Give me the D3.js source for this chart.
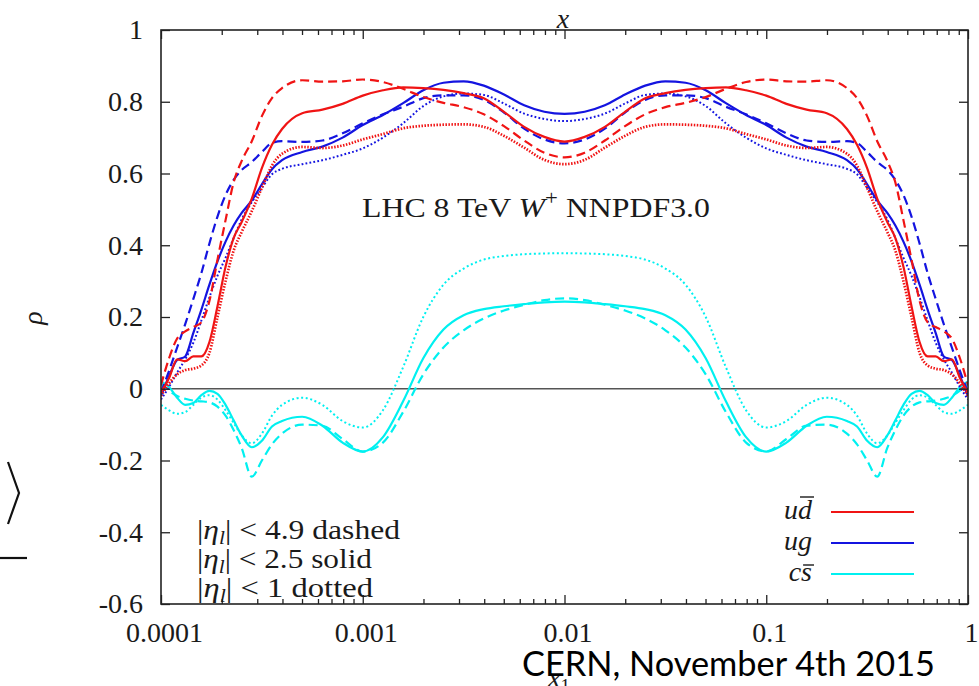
<!DOCTYPE html>
<html>
<head>
<meta charset="utf-8">
<script src="https://cdn.jsdelivr.net/npm/d3@7"></script>
<style>
  html, body { margin: 0; padding: 0; background: #fff; }
  svg { display: block; }
  text { font-family: "Liberation Serif", "Times New Roman", serif; fill: #1a1a1a; }
</style>
</head>
<body>
<svg id="chart" width="979" height="686"></svg>
<script>
// Momentum fraction grid, as log10(x)
const log10x = [-4, -3.96, -3.92, -3.88, -3.84, -3.8, -3.76, -3.72, -3.68, -3.64, -3.6, -3.55, -3.5, -3.45, -3.4,
  -3.3, -3.2, -3.1, -3, -2.9, -2.8, -2.7, -2.6, -2.5, -2.4, -2.3, -2.2, -2.1, -2,
  -1.9, -1.8, -1.7, -1.6, -1.5, -1.4, -1.3, -1.2, -1.1, -1, -0.9, -0.8, -0.7, -0.6, -0.55, -0.5, -0.45, -0.4,
  -0.36, -0.32, -0.28, -0.24, -0.2, -0.16, -0.12, -0.08, -0.04, 0];

// Correlation coefficient rho for each parton channel and lepton rapidity cut
const udbarCut49 = [0.01, 0.085, 0.14, 0.16, 0.172, 0.185, 0.245, 0.36, 0.47, 0.575, 0.635, 0.69, 0.76, 0.81, 0.838,
  0.86, 0.856, 0.857, 0.862, 0.855, 0.836, 0.813, 0.797, 0.785, 0.765, 0.732, 0.692, 0.658, 0.645,
  0.658, 0.692, 0.732, 0.765, 0.785, 0.797, 0.813, 0.836, 0.855, 0.862, 0.857, 0.856, 0.86, 0.838, 0.81, 0.76, 0.69,
  0.635, 0.575, 0.47, 0.36, 0.245, 0.185, 0.172, 0.16, 0.14, 0.085, 0.01];
const udbarCut25 = [-0.01, 0.03, 0.082, 0.077, 0.09, 0.09, 0.13, 0.23, 0.34, 0.42, 0.465, 0.53, 0.615, 0.68, 0.724,
  0.768, 0.778, 0.794, 0.817, 0.832, 0.84, 0.838, 0.833, 0.824, 0.81, 0.772, 0.73, 0.702, 0.689,
  0.702, 0.73, 0.772, 0.81, 0.824, 0.833, 0.838, 0.84, 0.832, 0.817, 0.794, 0.778, 0.768, 0.724, 0.68, 0.615, 0.53,
  0.465, 0.42, 0.34, 0.23, 0.13, 0.09, 0.09, 0.077, 0.082, 0.03, -0.01];
const udbarCut1 = [-0.02, 0.015, 0.04, 0.052, 0.056, 0.065, 0.1, 0.2, 0.3, 0.385, 0.437, 0.495, 0.56, 0.622, 0.655,
  0.674, 0.671, 0.678, 0.695, 0.71, 0.726, 0.733, 0.736, 0.737, 0.73, 0.705, 0.672, 0.638, 0.626,
  0.638, 0.672, 0.705, 0.73, 0.737, 0.736, 0.733, 0.726, 0.71, 0.695, 0.678, 0.671, 0.674, 0.655, 0.622, 0.56, 0.495,
  0.437, 0.385, 0.3, 0.2, 0.1, 0.065, 0.056, 0.052, 0.04, 0.015, -0.02];

const ugCut49 = [-0.01, 0.05, 0.115, 0.18, 0.25, 0.322, 0.405, 0.48, 0.54, 0.582, 0.61, 0.632, 0.66, 0.685, 0.69,
  0.688, 0.692, 0.712, 0.74, 0.765, 0.786, 0.81, 0.818, 0.818, 0.805, 0.77, 0.725, 0.695, 0.684,
  0.695, 0.725, 0.77, 0.805, 0.818, 0.818, 0.81, 0.786, 0.765, 0.74, 0.712, 0.692, 0.688, 0.69, 0.685, 0.66, 0.632,
  0.61, 0.582, 0.54, 0.48, 0.405, 0.322, 0.25, 0.18, 0.115, 0.05, -0.01];
const ugCut25 = [-0.02, 0.035, 0.08, 0.09, 0.155, 0.22, 0.29, 0.355, 0.41, 0.455, 0.49, 0.525, 0.57, 0.612, 0.637,
  0.66, 0.675, 0.7, 0.735, 0.763, 0.796, 0.832, 0.853, 0.857, 0.845, 0.82, 0.79, 0.772, 0.766,
  0.772, 0.79, 0.82, 0.845, 0.857, 0.853, 0.832, 0.796, 0.763, 0.735, 0.7, 0.675, 0.66, 0.637, 0.612, 0.57, 0.525,
  0.49, 0.455, 0.41, 0.355, 0.29, 0.22, 0.155, 0.09, 0.08, 0.035, -0.02];
const ugCut1 = [-0.03, 0.005, 0.045, 0.082, 0.128, 0.19, 0.255, 0.315, 0.365, 0.42, 0.472, 0.52, 0.56, 0.598, 0.613,
  0.626, 0.637, 0.652, 0.67, 0.7, 0.74, 0.788, 0.815, 0.823, 0.819, 0.795, 0.767, 0.752, 0.746,
  0.752, 0.767, 0.795, 0.819, 0.823, 0.815, 0.788, 0.74, 0.7, 0.67, 0.652, 0.637, 0.626, 0.613, 0.598, 0.56, 0.52,
  0.472, 0.42, 0.365, 0.315, 0.255, 0.19, 0.128, 0.082, 0.045, 0.005, -0.03];

const csbarCut49 = [0.015, -0.005, -0.02, -0.028, -0.033, -0.035, -0.038, -0.05, -0.075, -0.115, -0.165, -0.245, -0.2, -0.155, -0.125,
  -0.1, -0.103, -0.14, -0.175, -0.15, -0.065, 0.04, 0.115, 0.163, 0.196, 0.218, 0.234, 0.247, 0.252,
  0.247, 0.234, 0.218, 0.196, 0.163, 0.115, 0.04, -0.065, -0.15, -0.175, -0.14, -0.103, -0.1, -0.125, -0.155, -0.2, -0.245,
  -0.165, -0.115, -0.075, -0.05, -0.038, -0.035, -0.033, -0.028, -0.02, -0.005, 0.015];
const csbarCut25 = [0.02, 0.005, -0.025, -0.045, -0.04, -0.018, -0.006, -0.014, -0.045, -0.088, -0.13, -0.163, -0.145, -0.105, -0.09,
  -0.078, -0.103, -0.15, -0.175, -0.135, -0.035, 0.085, 0.165, 0.205, 0.222, 0.23, 0.236, 0.241, 0.243,
  0.241, 0.236, 0.23, 0.222, 0.205, 0.165, 0.085, -0.035, -0.135, -0.175, -0.15, -0.103, -0.078, -0.09, -0.105, -0.145, -0.163,
  -0.13, -0.088, -0.045, -0.014, -0.006, -0.018, -0.04, -0.045, -0.025, 0.005, 0.02];
const csbarCut1 = [-0.045, -0.06, -0.07, -0.065, -0.045, -0.025, -0.018, -0.03, -0.06, -0.095, -0.13, -0.152, -0.125, -0.075, -0.045,
  -0.025, -0.045, -0.09, -0.108, -0.06, 0.06, 0.2, 0.29, 0.335, 0.36, 0.37, 0.375, 0.377, 0.378,
  0.377, 0.375, 0.37, 0.36, 0.335, 0.29, 0.2, 0.06, -0.06, -0.108, -0.09, -0.045, -0.025, -0.045, -0.075, -0.125, -0.152,
  -0.13, -0.095, -0.06, -0.03, -0.018, -0.025, -0.045, -0.065, -0.07, -0.06, -0.045];

const xTickValues = [1e-4, 1e-3, 1e-2, 1e-1, 1];
const xTickLabels = ["0.0001", "0.001", "0.01", "0.1", "1"];
const yTickValues = [-0.6, -0.4, -0.2, 0, 0.2, 0.4, 0.6, 0.8, 1];
const yTickLabels = ["-0.6", "-0.4", "-0.2", "0", "0.2", "0.4", "0.6", "0.8", "1"];

const channelColors = { udbar: "#f01414", ug: "#1414e0", csbar: "#00f0f0" };
const cutDash = { cut49: "9,5", cut25: null, cut1: "1.8,2.2" };

const series = [
  { values: csbarCut1, channel: "csbar", cut: "cut1" },
  { values: csbarCut49, channel: "csbar", cut: "cut49" },
  { values: csbarCut25, channel: "csbar", cut: "cut25" },
  { values: ugCut1, channel: "ug", cut: "cut1" },
  { values: ugCut49, channel: "ug", cut: "cut49" },
  { values: ugCut25, channel: "ug", cut: "cut25" },
  { values: udbarCut1, channel: "udbar", cut: "cut1" },
  { values: udbarCut49, channel: "udbar", cut: "cut49" },
  { values: udbarCut25, channel: "udbar", cut: "cut25" }
];

const svg = d3.select("#chart");
const plot = { left: 161, right: 968, top: 30, bottom: 604 };

const x = d3.scaleLog().domain([1e-4, 1]).range([plot.left, plot.right]);
const y = d3.scaleLinear().domain([-0.6, 1]).range([plot.bottom, plot.top]);

svg.append("defs").append("clipPath").attr("id", "plotClip")
  .append("rect")
  .attr("x", plot.left).attr("y", plot.top)
  .attr("width", plot.right - plot.left).attr("height", plot.bottom - plot.top);

// Zero reference line
svg.append("line")
  .attr("x1", plot.left).attr("x2", plot.right)
  .attr("y1", y(0)).attr("y2", y(0))
  .attr("stroke", "#555").attr("stroke-width", 1.3);

// Curves
const line = d3.line()
  .x((d, i) => x(Math.pow(10, log10x[i])))
  .y(d => y(d))
  .curve(d3.curveMonotoneX);

function strokeWidth(s) {
  if (s.cut !== "cut1") return 2.2;
  return s.channel === "udbar" ? 2.7 : 2.0;
}
function dashPattern(s) {
  if (s.cut === "cut1" && s.channel === "udbar") return "1.5,1.5";
  if (s.cut === "cut1" && s.channel === "csbar") return "2,2.6";
  return cutDash[s.cut];
}

const curves = svg.append("g").attr("clip-path", "url(#plotClip)");
series.forEach(s => {
  curves.append("path")
    .datum(s.values)
    .attr("d", line)
    .attr("fill", "none")
    .attr("stroke", channelColors[s.channel])
    .attr("stroke-width", strokeWidth(s))
    .attr("stroke-dasharray", dashPattern(s))
    .attr("stroke-linejoin", "round");
});

// Axes: ticks point inward on all four sides
const minorX = [];
for (let e = -4; e < 0; e++) for (let m = 2; m <= 9; m++) minorX.push(m * Math.pow(10, e));

function styleAxis(g) {
  g.select(".domain").remove();
  g.selectAll(".tick line").attr("stroke", "#222").attr("stroke-width", 1.3);
  g.selectAll(".tick text").attr("font-size", 28).attr("fill", "#1a1a1a")
    .style("font-family", "'Liberation Serif', serif");
}

svg.append("g").attr("transform", `translate(0,${plot.bottom})`)
  .call(d3.axisBottom(x).tickValues(xTickValues).tickSizeInner(-9).tickSizeOuter(0).tickPadding(18)
    .tickFormat((d, i) => xTickLabels[i]))
  .call(styleAxis)
  .selectAll(".tick text").attr("dx", 3);
svg.append("g").attr("transform", `translate(0,${plot.bottom})`)
  .call(d3.axisBottom(x).tickValues(minorX).tickSizeInner(-5).tickSizeOuter(0).tickFormat(""))
  .call(styleAxis);
svg.append("g").attr("transform", `translate(0,${plot.top})`)
  .call(d3.axisTop(x).tickValues(xTickValues).tickSizeInner(-9).tickSizeOuter(0).tickFormat(""))
  .call(styleAxis);
svg.append("g").attr("transform", `translate(0,${plot.top})`)
  .call(d3.axisTop(x).tickValues(minorX).tickSizeInner(-5).tickSizeOuter(0).tickFormat(""))
  .call(styleAxis);
svg.append("g").attr("transform", `translate(${plot.left},0)`)
  .call(d3.axisLeft(y).tickValues(yTickValues).tickSizeInner(-9).tickSizeOuter(0).tickPadding(18)
    .tickFormat((d, i) => yTickLabels[i]))
  .call(styleAxis);
svg.append("g").attr("transform", `translate(${plot.right},0)`)
  .call(d3.axisRight(y).tickValues(yTickValues).tickSizeInner(-9).tickSizeOuter(0).tickFormat(""))
  .call(styleAxis);

// Frame
svg.append("rect")
  .attr("x", plot.left).attr("y", plot.top)
  .attr("width", plot.right - plot.left).attr("height", plot.bottom - plot.top)
  .attr("fill", "none").attr("stroke", "#222").attr("stroke-width", 1.6);

// Axis titles
svg.append("text").attr("x", 563).attr("y", 28).attr("text-anchor", "middle")
  .attr("font-size", 28).attr("font-style", "italic").text("x");
svg.append("text").attr("transform", "translate(42,318) rotate(-90)").attr("text-anchor", "middle")
  .attr("font-size", 28).attr("font-style", "italic").text("ρ");
const xsub = svg.append("text").attr("x", 548).attr("y", 687).attr("font-size", 28).attr("font-style", "italic");
xsub.append("tspan").text("x");
xsub.append("tspan").attr("font-size", 19).attr("font-style", "normal").attr("dy", 5).text("1");

// Process label
const title = svg.append("text").attr("x", 362).attr("y", 217).attr("font-size", 28)
  .attr("textLength", 348).attr("lengthAdjust", "spacingAndGlyphs");
title.append("tspan").text("LHC 8 TeV ");
title.append("tspan").attr("font-style", "italic").text("W");
title.append("tspan").attr("font-size", 20).attr("dy", -12).text("+");
title.append("tspan").attr("dy", 12).text(" NNPDF3.0");

// Rapidity-cut key
const cutKey = [
  { bound: "4.9", style: "dashed", y: 539, width: 203 },
  { bound: "2.5", style: "solid", y: 568, width: 175 },
  { bound: "1", style: "dotted", y: 597, width: 176 }
];
cutKey.forEach(k => {
  const t = svg.append("text").attr("x", 197).attr("y", k.y).attr("font-size", 28)
    .attr("textLength", k.width).attr("lengthAdjust", "spacingAndGlyphs");
  t.append("tspan").text("|");
  t.append("tspan").attr("font-style", "italic").text("η");
  t.append("tspan").attr("font-style", "italic").attr("font-size", 19).attr("dy", 5).text("l");
  t.append("tspan").attr("dy", -5).text("| < " + k.bound + " " + k.style);
});

// Channel key
const channelKey = [
  { base: "u", barred: "d", channel: "udbar", y: 519, lineY: 512, barLift: 22 },
  { base: "ug", barred: "", channel: "ug", y: 550, lineY: 543, barLift: 0 },
  { base: "c", barred: "s", channel: "csbar", y: 581, lineY: 574, barLift: 16 }
];
channelKey.forEach(k => {
  const t = svg.append("text").attr("x", 812).attr("y", k.y).attr("font-size", 28)
    .attr("font-style", "italic").attr("text-anchor", "end");
  t.append("tspan").text(k.base);
  if (k.barred) {
    t.append("tspan").text(k.barred);
    const n = k.base.length;
    const start = t.node().getStartPositionOfChar(n).x;
    const end = t.node().getEndPositionOfChar(n).x;
    svg.append("line")
      .attr("x1", start + 2).attr("x2", end + 2)
      .attr("y1", k.y - k.barLift).attr("y2", k.y - k.barLift)
      .attr("stroke", "#1a1a1a").attr("stroke-width", 1.4);
  }
  svg.append("line").attr("x1", 831).attr("x2", 914).attr("y1", k.lineY).attr("y2", k.lineY)
    .attr("stroke", channelColors[k.channel]).attr("stroke-width", 2.2);
});

// Slide footer and margin fragments
svg.append("text").attr("x", 522).attr("y", 676)
  .attr("font-size", 34).attr("textLength", 413).attr("lengthAdjust", "spacingAndGlyphs")
  .style("font-family", "Lato, 'Open Sans', sans-serif").style("fill", "#000")
  .text("CERN, November 4th 2015");
svg.append("path").attr("d", "M8,462 L19,493 L8,524").attr("fill", "none")
  .attr("stroke", "#111").attr("stroke-width", 2.2);
svg.append("line").attr("x1", 0).attr("x2", 27).attr("y1", 558).attr("y2", 558)
  .attr("stroke", "#111").attr("stroke-width", 2.2);
</script>
</body>
</html>
